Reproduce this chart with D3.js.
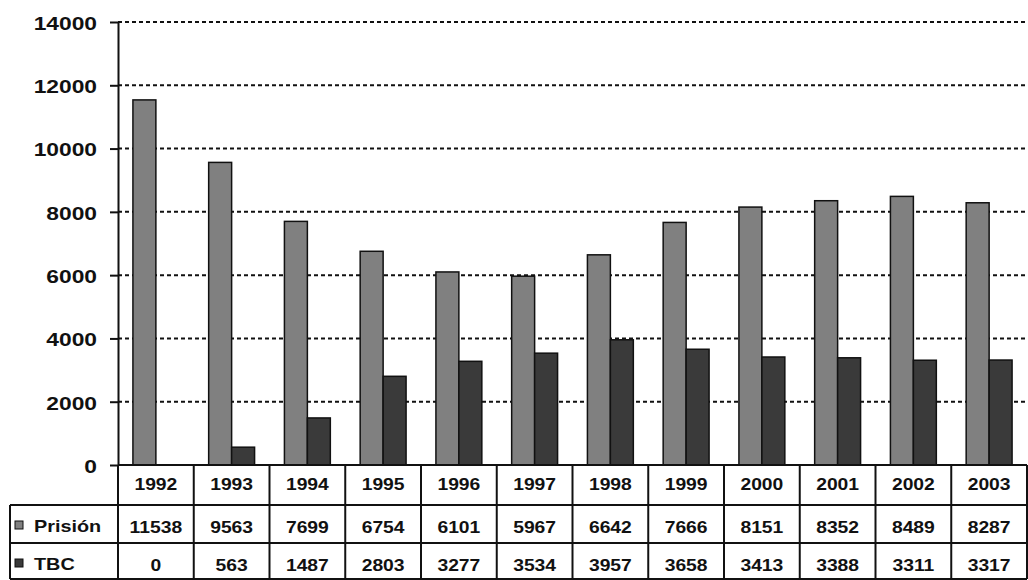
<!DOCTYPE html>
<html>
<head>
<meta charset="utf-8">
<script src="https://cdn.jsdelivr.net/npm/d3@7"></script>
<style>
  html, body { margin: 0; padding: 0; background: #fff; }
  svg { display: block; }
  text { font-family: "Liberation Sans", Arial, sans-serif; font-weight: bold; fill: #111; }
</style>
</head>
<body>
<svg id="chart" width="1028" height="580"></svg>
<script>
// Yearly counts: prison population vs. tuberculosis cases
const years = ["1992","1993","1994","1995","1996","1997","1998","1999","2000","2001","2002","2003"];
const prision = [11538, 9563, 7699, 6754, 6101, 5967, 6642, 7666, 8151, 8352, 8489, 8287];
const tbc = [0, 563, 1487, 2803, 3277, 3534, 3957, 3658, 3413, 3388, 3311, 3317];
const seriesNames = ["Prisión", "TBC"];
const seriesColors = ["#808080", "#3a3a3a"];
const yTicks = [0, 2000, 4000, 6000, 8000, 10000, 12000, 14000];

const svg = d3.select("#chart");
const plotLeft = 118, plotRight = 1027, plotTop = 22, plotBase = 465;
const rowLines = [465, 505, 543, 579];
const tableLeft = 10;

const x = d3.scaleBand().domain(years).range([plotLeft, plotRight]).padding(0);
const xs = d3.scaleBand().domain(seriesNames).range([0, x.bandwidth()]).paddingInner(0).paddingOuter(0.65);
const y = d3.scaleLinear().domain([0, 14000]).range([plotBase, plotTop]);

// horizontally widened bold text
function label(g, txt, px, py, size, stretch, anchor) {
  return g.append("text")
    .attr("transform", `translate(${px},${py}) scale(${stretch},1)`)
    .attr("text-anchor", anchor || "middle")
    .attr("dominant-baseline", "central")
    .attr("font-size", size)
    .text(txt);
}

// dotted gridlines
svg.append("g").selectAll("line")
  .data(yTicks.filter(d => d > 0))
  .join("line")
  .attr("x1", plotLeft).attr("x2", plotRight)
  .attr("y1", d => y(d)).attr("y2", d => y(d))
  .attr("stroke", "#111").attr("stroke-width", 2)
  .attr("stroke-dasharray", "4,3");

// y axis with tick labels
const yAxis = svg.append("g")
  .attr("transform", `translate(${plotLeft},0)`)
  .call(d3.axisLeft(y).tickValues(yTicks).tickSize(8).tickSizeOuter(0).tickFormat(""));
yAxis.select(".domain").attr("stroke", "#111").attr("stroke-width", 2);
yAxis.selectAll(".tick line").attr("stroke", "#111").attr("stroke-width", 2);
const yLab = svg.append("g");
yTicks.forEach(t => label(yLab, String(t), 97, y(t) + 1, 19, 1.2, "end"));

// bars
const values = [prision, tbc];
seriesNames.forEach((s, si) => {
  svg.append("g").selectAll("rect")
    .data(years.map((yr, i) => ({ yr, v: values[si][i] })).filter(d => d.v > 0))
    .join("rect")
    .attr("x", d => x(d.yr) + xs(s))
    .attr("width", xs.bandwidth())
    .attr("y", d => y(d.v))
    .attr("height", d => plotBase - y(d.v))
    .attr("fill", seriesColors[si])
    .attr("stroke", "#111")
    .attr("stroke-width", 1.5);
});

// data table beneath the axis
const table = svg.append("g");
table.append("line")
  .attr("x1", plotLeft).attr("x2", plotRight).attr("y1", rowLines[0]).attr("y2", rowLines[0])
  .attr("stroke", "#111").attr("stroke-width", 2);
rowLines.slice(1).forEach(ly => {
  table.append("line")
    .attr("x1", tableLeft).attr("x2", plotRight).attr("y1", ly).attr("y2", ly)
    .attr("stroke", "#111").attr("stroke-width", 2);
});
years.concat(["end"]).forEach((yr, i) => {
  const vx = i < years.length ? x(yr) : plotRight;
  table.append("line")
    .attr("x1", vx).attr("x2", vx).attr("y1", rowLines[0]).attr("y2", rowLines[3])
    .attr("stroke", "#111").attr("stroke-width", 2);
});
table.append("line")
  .attr("x1", tableLeft).attr("x2", tableLeft).attr("y1", rowLines[1]).attr("y2", rowLines[3])
  .attr("stroke", "#111").attr("stroke-width", 2);

const rowText = [484, 527, 565];
years.forEach((yr, i) => {
  const cx = x(yr) + x.bandwidth() / 2;
  label(table, yr, cx, rowText[0], 16.5, 1.17);
  label(table, String(prision[i]), cx, rowText[1], 16.5, 1.17);
  label(table, String(tbc[i]), cx, rowText[2], 16.5, 1.17);
});

// legend keys in the row headers
seriesNames.forEach((s, si) => {
  const cy = rowText[si + 1];
  table.append("rect")
    .attr("x", 15).attr("y", cy - 6).attr("width", 8).attr("height", 8)
    .attr("fill", seriesColors[si]).attr("stroke", "#111").attr("stroke-width", 1);
  label(table, s, 34, cy, 16.5, 1.2, "start");
});
</script>
</body>
</html>
